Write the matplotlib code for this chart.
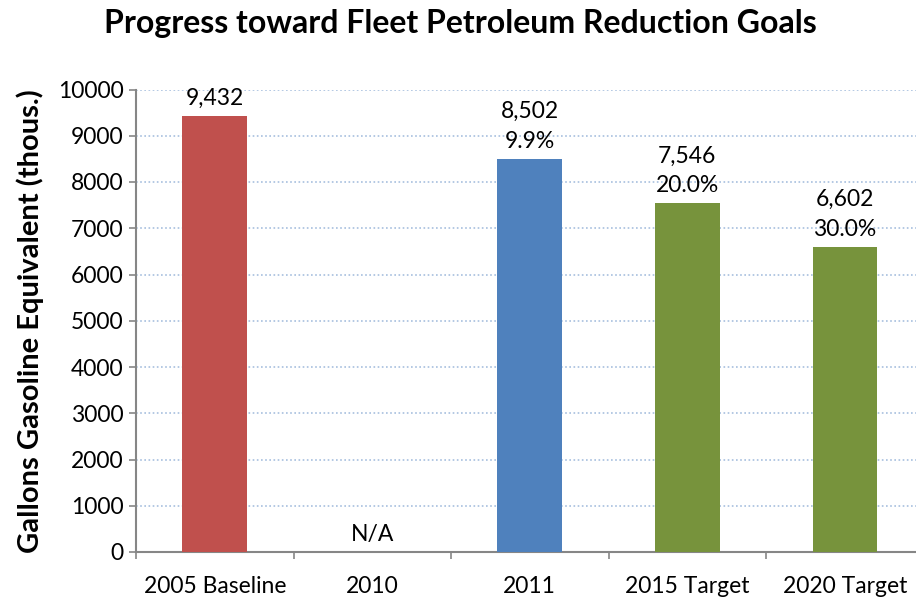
import matplotlib
matplotlib.use("Agg")
import matplotlib.pyplot as plt
from matplotlib.ticker import FixedLocator

categories = ["2005 Baseline", "2010", "2011", "2015 Target", "2020 Target"]
values = [9432, 0, 8502, 7546, 6602]
value_labels = ["9,432", "N/A", "8,502\n9.9%", "7,546\n20.0%", "6,602\n30.0%"]
colors = ["#C0504D", "#4F81BD", "#4F81BD", "#77933C", "#77933C"]
yticks = [0, 1000, 2000, 3000, 4000, 5000, 6000, 7000, 8000, 9000, 10000]

plt.rcParams['font.family'] = ['Lato', 'DejaVu Sans']

fig = plt.figure(figsize=(9.16, 5.99), dpi=100)
ax = fig.add_axes([136/916, 1-552/599, 780/916, (552-89.5)/599])

x = list(range(len(categories)))
ax.bar(x, values, width=0.41, color=colors, zorder=3)

for xi, v, lab in zip(x, values, value_labels):
    ax.annotate(lab, (xi, v), xytext=(0, 5), textcoords="offset points",
                ha="center", va="bottom", fontsize=16.5, linespacing=1.5)

ax.set_xlim(-0.5, 4.452)
ax.set_ylim(0, 10000)
ax.set_yticks(yticks)
ax.set_yticklabels([str(t) for t in yticks], fontsize=16.5)
ax.set_xticks(x)
ax.set_xticklabels(categories, fontsize=16.5)
ax.xaxis.set_minor_locator(FixedLocator([-0.5, 0.5, 1.5, 2.5, 3.5, 4.5]))
ax.tick_params(axis='x', which='major', length=0, pad=17)
ax.tick_params(axis='x', which='minor', length=5, width=1.2, color="#868686", direction='out')
ax.tick_params(axis='y', length=5, width=1.2, color="#868686", direction='out', pad=4)

ax.grid(axis='y', linestyle=(0, (1, 1.5)), color="#A7BFDE", linewidth=1.2, zorder=0)
for s in ["top", "right"]:
    ax.spines[s].set_visible(False)
for s in ["left", "bottom"]:
    ax.spines[s].set_color("#868686")
    ax.spines[s].set_linewidth(1.5)

ax.set_ylabel("Gallons Gasoline Equivalent (thous.)", fontsize=21, fontweight="bold", labelpad=10)
fig.text(0.503, 1-24/599, "Progress toward Fleet Petroleum Reduction Goals", ha="center", va="center",
         fontsize=23, fontweight="bold")

fig.savefig("out.png", dpi=100)
